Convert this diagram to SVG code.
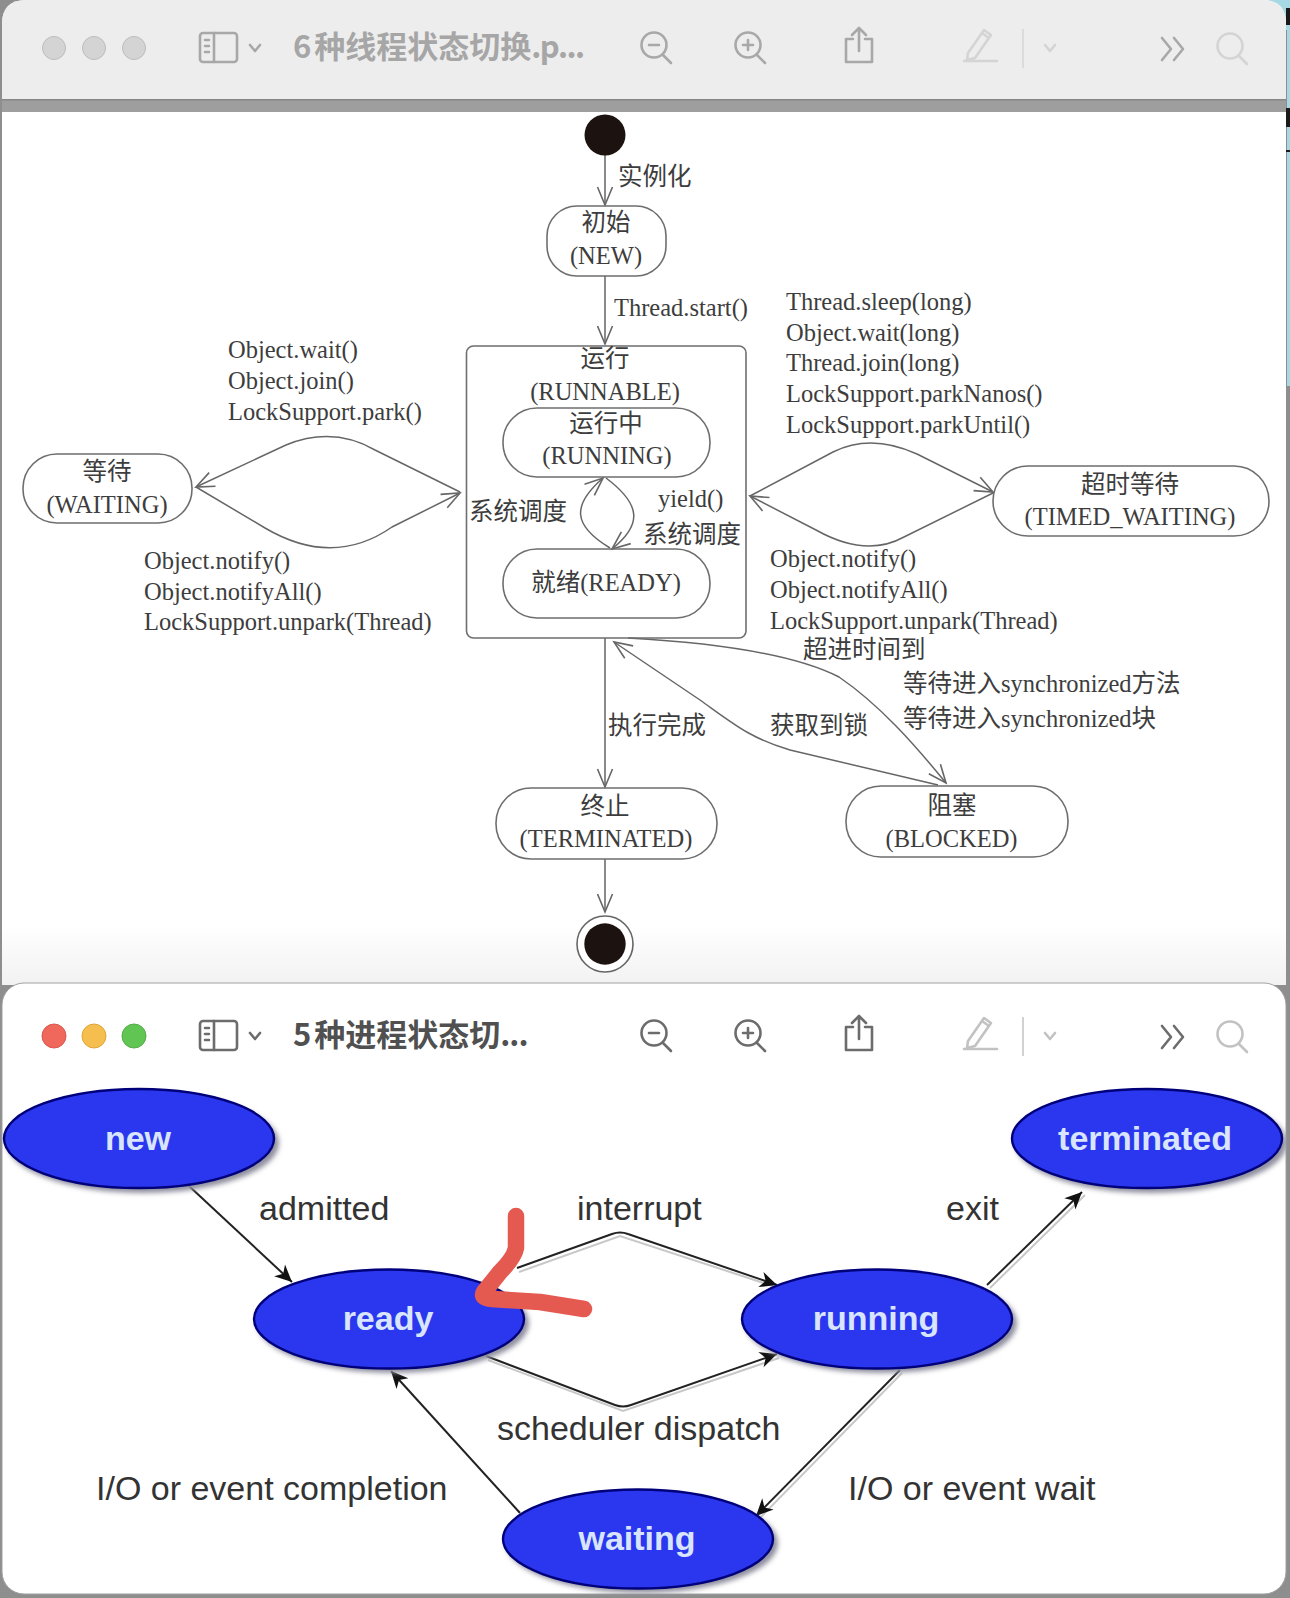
<svg xmlns="http://www.w3.org/2000/svg" xmlns:xlink="http://www.w3.org/1999/xlink" width="1290" height="1598" viewBox="0 0 1290 1598">
<style>
.t{font-family:"Liberation Serif","Noto Sans CJK SC",serif;font-size:24.5px;fill:#3d3d3d}
.m{text-anchor:middle}
.title{font-family:"Noto Sans CJK SC","Liberation Sans",sans-serif;font-size:31px;font-weight:700}
.box{fill:none;stroke:#6e6e6e;stroke-width:1.6}
.edge{fill:none;stroke:#666;stroke-width:1.5}
.v{fill:none;stroke:#8a8a8a;stroke-width:2}
.bar{fill:none;stroke:currentColor;stroke-width:2.6;stroke-linecap:round;stroke-linejoin:round}
.el{fill:#2a37ee;stroke:#00007a;stroke-width:2.4}
.sh{fill:#8f8f9f;filter:url(#blur)}
.nl{font-family:"Liberation Sans",Arial,sans-serif;font-size:34px;font-weight:700;fill:#d9e5ff;text-anchor:middle}
.l{font-family:"Liberation Sans",Arial,sans-serif;font-size:34px;fill:#333}
.arr{fill:none;stroke:#222;stroke-width:2}
.arrs{fill:none;stroke:#c8c8c8;stroke-width:2}
</style>
<defs>
<filter id="blur" x="-10%" y="-20%" width="120%" height="140%"><feGaussianBlur stdDeviation="2.5"/></filter>
<linearGradient id="fade" gradientUnits="userSpaceOnUse" x1="0" y1="925" x2="0" y2="985"><stop offset="0" stop-color="#fff"/><stop offset="1" stop-color="#f2f2f2"/></linearGradient>
<marker id="open" markerUnits="userSpaceOnUse" viewBox="-22 -11 26 22" markerWidth="26" markerHeight="22" refX="0" refY="0" orient="auto"><path d="M-18 -7.5L0 0L-18 7.5" fill="none" stroke="#666" stroke-width="1.6"/></marker>
<marker id="solid" markerUnits="userSpaceOnUse" viewBox="-20 -10 22 20" markerWidth="22" markerHeight="20" refX="0" refY="0" orient="auto"><path d="M-17 -8L0 0L-17 8L-12 0Z" fill="#111"/></marker>
<g id="tools">
<rect x="200" y="33" width="37" height="29" rx="3" class="bar"/><path d="M214 33V62" class="bar"/><path d="M205 40h4M205 46h4M205 52h4" class="bar" stroke-width="2"/>
<path d="M250 45l5 6l5 -6" class="bar" stroke-width="2.5"/>
<circle cx="654" cy="45" r="12.5" class="bar"/><path d="M663 55l8 8M649 45h10" class="bar"/>
<circle cx="748" cy="45" r="12.500" class="bar"/><path d="M757 55l8 8M743 45h10M748 40v10" class="bar"/>
<path d="M853 39h-7v23h26v-23h-7M859 51V28M852 35l7 -7l7 7" class="bar"/>
<path d="M1162 38l9 11l-9 11M1174 38l9 11l-9 11" class="bar" stroke-width="2.5"/>
</g>
<g id="tools-light">
<path d="M968 53L984 30l7 5l-16 23l-8 2ZM982 33l7 5" class="bar" stroke-width="1.6"/><path d="M964 61h33" class="bar"/>
<path d="M1023 29v39" fill="none" stroke="currentColor" stroke-width="1.500"/>
<path d="M1045 45l5 6l5 -6" class="bar" stroke-width="2.5"/>
<circle cx="1230" cy="46" r="12.500" class="bar"/><path d="M1239 56l8 8" class="bar"/>
</g>
</defs>

<g id="backdrop">
<rect width="1290" height="1598" fill="#8e8e8e"/>
<rect x="1262" y="0" width="28" height="30" fill="#a6d9e4"/>
<rect x="1287" y="0" width="3" height="386" fill="#a6d9e4"/>
<rect x="1286" y="8" width="4" height="17" fill="#1a1a1a"/><rect x="1286" y="108" width="4" height="19" fill="#1a1a1a"/><rect x="1286" y="150" width="4" height="2" fill="#1a1a1a"/>
</g>

<g id="window-top">
<path d="M2 985V24Q2 0 26 0H1262Q1286 0 1286 24V985Z" fill="url(#fade)"/>
<path d="M2 100V24Q2 0 26 0H1262Q1286 0 1286 24V100Z" fill="#ededed"/>
<rect x="2" y="100" width="1284" height="12" fill="#9e9e9e"/>
<rect x="2" y="99" width="1284" height="1.500" fill="#858585"/>
<g fill="#d4d4d4" stroke="#bdbdbd"><circle cx="54" cy="48" r="11.500"/><circle cx="94" cy="48" r="11.500"/><circle cx="134" cy="48" r="11.500"/></g>
<use href="#tools" color="#a8a8a8"/><use href="#tools-light" color="#d4d4d4"/>
<text class="title" x="293" y="58" fill="#a6a6a6">6<tspan dx="3">种线程状态切换</tspan><tspan letter-spacing="-1.500">.p...</tspan></text>
</g>

<g id="connectors-uml">
<path class="v" d="M605 155V205" marker-end="url(#open)"/>
<path class="v" d="M605 276V344" marker-end="url(#open)"/>
<path class="v" d="M605 638V787" marker-end="url(#open)"/>
<path class="v" d="M605 859V912" marker-end="url(#open)"/>
<path class="edge" d="M610 548C572 525 572 505 603 478" marker-end="url(#open)"/>
<path class="edge" d="M606 478C642 505 642 525 612 549" marker-end="url(#open)"/>
<path class="edge" d="M460 492L375 450Q333 426 286 445L196 487" marker-end="url(#open)"/>
<path class="edge" d="M196 487L265 528Q333 568 392 527L460 493" marker-end="url(#open)"/>
<path class="edge" d="M750 496L833 452Q871 433 917 454L993 492" marker-end="url(#open)"/>
<path class="edge" d="M993 493L904 537Q866 558 816 530L750 496" marker-end="url(#open)"/>
<path class="edge" d="M938 785L790 750C750 738 735 725 700 700L614 642" marker-end="url(#open)"/>
<path class="edge" d="M628 638C700 642 790 652 839 677C880 705 915 745 946 783" marker-end="url(#open)"/>
</g>

<g id="node-start"><circle cx="605" cy="135" r="20.500" fill="#1c1210"/></g>
<g id="node-new"><rect class="box" x="547" y="206" width="119" height="70" rx="30"/><text class="t m" x="606" y="231">初始</text><text class="t m" x="606" y="264">(NEW)</text></g>
<g id="node-runnable"><rect class="box" x="466.500" y="346" width="279.500" height="292" rx="7"/><text class="t m" x="605" y="367">运行</text><text class="t m" x="605" y="400">(RUNNABLE)</text></g>
<g id="node-running"><rect class="box" x="503" y="408" width="207" height="69" rx="34"/><text class="t m" x="606" y="432">运行中</text><text class="t m" x="607" y="464">(RUNNING)</text></g>
<g id="node-ready"><rect class="box" x="503" y="549" width="207" height="69" rx="34"/><text class="t m" x="606" y="591">就绪(READY)</text></g>
<g id="node-waiting"><rect class="box" x="23" y="454" width="169" height="69" rx="34"/><text class="t m" x="107" y="480">等待</text><text class="t m" x="107" y="513">(WAITING)</text></g>
<g id="node-timed-waiting"><rect class="box" x="993" y="466" width="276" height="70" rx="35"/><text class="t m" x="1130" y="493">超时等待</text><text class="t m" x="1130" y="525">(TIMED_WAITING)</text></g>
<g id="node-terminated"><rect class="box" x="496" y="788" width="221" height="71" rx="35"/><text class="t m" x="605" y="815">终止</text><text class="t m" x="606" y="847">(TERMINATED)</text></g>
<g id="node-blocked"><rect class="box" x="846" y="786" width="222" height="71" rx="35"/><text class="t m" x="952" y="814">阻塞</text><text class="t m" x="951.500" y="847">(BLOCKED)</text></g>
<g id="node-end"><circle cx="605" cy="944" r="28" fill="#fff" stroke="#666" stroke-width="1.600"/><circle cx="605" cy="944" r="20.700" fill="#1c1210"/></g>

<g id="labels-uml">
<text class="t" x="618" y="185">实例化</text>
<text class="t" x="614" y="316">Thread.start()</text>
<text class="t" x="228" y="358">Object.wait()</text>
<text class="t" x="228" y="389">Object.join()</text>
<text class="t" x="228" y="420">LockSupport.park()</text>
<text class="t" x="144" y="569">Object.notify()</text>
<text class="t" x="144" y="600">Object.notifyAll()</text>
<text class="t" x="144" y="630">LockSupport.unpark(Thread)</text>
<text class="t" x="469" y="520">系统调度</text>
<text class="t" x="658" y="507">yield()</text>
<text class="t" x="643" y="543">系统调度</text>
<text class="t" x="786" y="310">Thread.sleep(long)</text>
<text class="t" x="786" y="341">Object.wait(long)</text>
<text class="t" x="786" y="371">Thread.join(long)</text>
<text class="t" x="786" y="402">LockSupport.parkNanos()</text>
<text class="t" x="786" y="433">LockSupport.parkUntil()</text>
<text class="t" x="770" y="567">Object.notify()</text>
<text class="t" x="770" y="598">Object.notifyAll()</text>
<text class="t" x="770" y="629">LockSupport.unpark(Thread)</text>
<text class="t" x="803" y="658">超进时间到</text>
<text class="t" x="903" y="692">等待进入synchronized方法</text>
<text class="t" x="903" y="727">等待进入synchronized块</text>
<text class="t" x="608" y="734">执行完成</text>
<text class="t" x="770" y="734">获取到锁</text>
</g>

<g id="window-bottom">
<rect x="2" y="983" width="1284" height="611" rx="22" fill="#fff" stroke="#a0a0a0" stroke-width="1"/>
<circle cx="54" cy="1036" r="12" fill="#f0675c" stroke="#d9574d"/><circle cx="94" cy="1036" r="12" fill="#f6bd4f" stroke="#dea63c"/><circle cx="134" cy="1036" r="12" fill="#61c554" stroke="#52ad46"/>
<g transform="translate(0 988)"><use href="#tools" color="#6c6c6c"/><use href="#tools-light" color="#c2c2c2"/></g>
<text class="title" x="293" y="1046" fill="#505050">5<tspan dx="3">种进程状态切</tspan><tspan letter-spacing="-1">...</tspan></text>
</g>

<g id="connectors-process">
<path class="arrs" d="M519 1272L620 1236L779 1288M488 1360L623 1411L779 1358M990 1288L1085 1195M902 1373L759 1519"/>
<path class="arr" d="M189 1186L292 1282" marker-end="url(#solid)"/>
<path class="arr" d="M520 1513L391 1371" marker-end="url(#solid)"/>
<path class="arr" d="M517 1268L612 1234Q620 1231 628 1234L777 1285" marker-end="url(#solid)"/>
<path class="arr" d="M486 1356L615 1405Q623 1408 631 1405L777 1354" marker-end="url(#solid)"/>
<path class="arr" d="M987 1285L1082 1192" marker-end="url(#solid)"/>
<path class="arr" d="M900 1370L756 1516" marker-end="url(#solid)"/>
</g>

<g id="node-p-new"><ellipse class="sh" cx="143" cy="1143" rx="136" ry="50"/><ellipse class="el" cx="139" cy="1138.500" rx="135" ry="49.500"/><text class="nl" x="138" y="1149.500">new</text></g>
<g id="node-p-ready"><ellipse class="sh" cx="393" cy="1323" rx="136" ry="50"/><ellipse class="el" cx="389" cy="1319" rx="135" ry="49.500"/><text class="nl" x="388" y="1330">ready</text></g>
<g id="node-p-running"><ellipse class="sh" cx="881" cy="1323" rx="136" ry="50"/><ellipse class="el" cx="877" cy="1319" rx="135" ry="49.500"/><text class="nl" x="876" y="1330">running</text></g>
<g id="node-p-terminated"><ellipse class="sh" cx="1151" cy="1143" rx="136" ry="50"/><ellipse class="el" cx="1147" cy="1138.500" rx="135" ry="49.500"/><text class="nl" x="1145" y="1149.500">terminated</text></g>
<g id="node-p-waiting"><ellipse class="sh" cx="642" cy="1543" rx="136" ry="50"/><ellipse class="el" cx="638" cy="1539" rx="135" ry="49.500"/><text class="nl" x="637" y="1550">waiting</text></g>

<g id="labels-process">
<text class="l" x="259" y="1220">admitted</text>
<text class="l" x="577" y="1220">interrupt</text>
<text class="l" x="946" y="1220">exit</text>
<text class="l" x="497" y="1440">scheduler dispatch</text>
<text class="l" x="96" y="1500">I/O or event completion</text>
<text class="l" x="848" y="1500">I/O or event wait</text>
</g>

<path id="annotation" d="M516 1216V1248Q514 1258 500 1272L484 1292Q480 1298 492 1299L540 1302L584 1309" fill="none" stroke="#e55a50" stroke-width="16.500" stroke-linecap="round" stroke-linejoin="round"/>
</svg>
